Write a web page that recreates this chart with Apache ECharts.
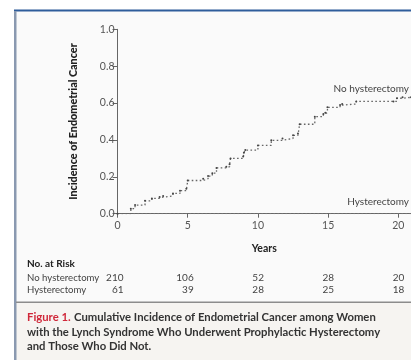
<!DOCTYPE html>
<html><head><meta charset="utf-8">
<script src="https://cdn.jsdelivr.net/npm/echarts@6/dist/echarts.min.js"></script>
<style>html,body{margin:0;padding:0;background:#fff}#c{width:411px;height:360px}</style></head>
<body><div id="c"></div>
<script>
// Kaplan-Meier style cumulative incidence (step points)
const noHystYears = [0,0.95,1.25,1.96,2.45,3.0,3.25,3.95,4.45,4.9,5.0,6.1,6.45,6.75,7.05,7.75,7.98,8.05,8.95,9.0,9.1,10.0,10.95,11.75,12.5,12.85,12.97,14.05,14.66,14.8,14.95,15.85,16.0,17.0,19.65,19.9,20.3,20.9];
const noHystIncidence = [0,0.027,0.047,0.07,0.083,0.09,0.096,0.11,0.125,0.135,0.18,0.19,0.204,0.22,0.248,0.255,0.268,0.30,0.31,0.33,0.345,0.37,0.398,0.408,0.425,0.435,0.485,0.526,0.54,0.548,0.577,0.589,0.595,0.609,0.609,0.626,0.631,0.631];
const hystYears = [0,20.9];
const hystIncidence = [0,0];
const xTicks = [0,5,10,15,20];
const riskRowNames = ['No hysterectomy','Hysterectomy'];
const riskNoHyst = [210,106,52,28,20];
const riskHyst = [61,39,28,25,18];
const curveLabels = ['No hysterectomy','Hysterectomy'];

const FONT = 'Lato, "Open Sans", sans-serif';
const chart = echarts.init(document.getElementById('c'), null, {renderer:'canvas'});
const pairs = (xs, ys) => xs.map((x,i)=>[x, ys[i]]);

chart.setOption({
  backgroundColor:'#ffffff',
  animation:false,
  grid:{left:117.5, top:29.3, width:293.5, height:184.4, containLabel:false},
  xAxis:{
    type:'value', min:0, max:20.9,
    name:'Years', nameLocation:'middle', nameGap:29,
    nameTextStyle:{fontFamily:FONT, fontWeight:'bold', fontSize:10.5, color:'#222'},
    axisLine:{show:true, lineStyle:{color:'#666', width:1}},
    axisTick:{show:true, length:4, customValues:xTicks, lineStyle:{color:'#666'}},
    axisLabel:{customValues:xTicks, margin:6, fontFamily:FONT, fontSize:10.5, color:'#555'},
    splitLine:{show:false}
  },
  yAxis:{
    type:'value', min:0, max:1, interval:0.2,
    name:'Incidence of Endometrial Cancer', nameLocation:'middle', nameGap:38,
    nameTextStyle:{fontFamily:FONT, fontWeight:900, fontSize:10.8, color:'#222'},
    axisLine:{show:true, lineStyle:{color:'#666', width:1}},
    axisTick:{show:true, length:5, lineStyle:{color:'#666'}},
    axisLabel:{margin:3, fontFamily:FONT, fontSize:10.5, color:'#555', formatter:v=>v.toFixed(1)},
    splitLine:{show:false}
  },
  series:[
    {type:'line', step:'end', data:pairs(hystYears,hystIncidence), showSymbol:false, z:1,
     lineStyle:{color:'#777', width:1, type:[1.5,2.5]}},
    {type:'line', step:'end', data:pairs(noHystYears,noHystIncidence), showSymbol:true, symbol:'circle', symbolSize:2,
     itemStyle:{color:'#444'}, lineStyle:{color:'#666', width:1.3, type:[1.6,2.4]}}
  ]
});

const px = t => chart.convertToPixel({xAxisIndex:0}, t);
const F = '9.6px ' + FONT;
const graphics = [
  {type:'rect', z:-100, shape:{x:14, y:9, width:397, height:351}, style:{fill:'#fafafa'}},
  {type:'rect', z:-99, shape:{x:16, y:303, width:395, height:57}, style:{fill:'#f6f4f1'}},
  {type:'rect', z:-98, shape:{x:14, y:9.5, width:397, height:2}, style:{fill:'#2f5d9b'}},
  {type:'rect', z:-98, shape:{x:14, y:11, width:2.5, height:349}, style:{fill:'#8a99b0'}},
  {type:'rect', z:-98, shape:{x:16, y:301.5, width:395, height:1.5}, style:{fill:'#8c8c8c'}},
  {type:'text', style:{text:curveLabels[0], x:409, y:89, align:'right', verticalAlign:'middle', font:'10px '+FONT, fill:'#444'}},
  {type:'text', style:{text:curveLabels[1], x:409, y:202, align:'right', verticalAlign:'middle', font:'10px '+FONT, fill:'#444'}},
  {type:'text', style:{text:'No. at Risk', x:27, y:264, verticalAlign:'middle', font:'bold 10px '+FONT, fill:'#222'}},
  {type:'text', style:{text:riskRowNames[0], x:27, y:277.5, verticalAlign:'middle', font:F, fill:'#444'}},
  {type:'text', style:{text:riskRowNames[1], x:27, y:290, verticalAlign:'middle', font:F, fill:'#444'}}
];
xTicks.forEach((t,i)=>{
  const x = px(t) + 6;
  graphics.push({type:'text', style:{text:String(riskNoHyst[i]), x:x, y:277.5, align:'right', verticalAlign:'middle', font:'10px '+FONT, fill:'#444'}});
  graphics.push({type:'text', style:{text:String(riskHyst[i]), x:x, y:290, align:'right', verticalAlign:'middle', font:'10px '+FONT, fill:'#444'}});
});
graphics.push({type:'text', style:{
  x:27, y:310,
  text:'{r|Figure 1.} {b|Cumulative Incidence of Endometrial Cancer among Women}\n{b|with the Lynch Syndrome Who Underwent Prophylactic Hysterectomy}\n{b|and Those Who Did Not.}',
  rich:{
    r:{fill:'#d0283a', font:'bold 11.3px '+FONT, lineHeight:14.7},
    b:{fill:'#333', font:'bold 11.3px '+FONT, lineHeight:14.7}
  }
}});
chart.setOption({graphic:graphics});
</script></body></html>
